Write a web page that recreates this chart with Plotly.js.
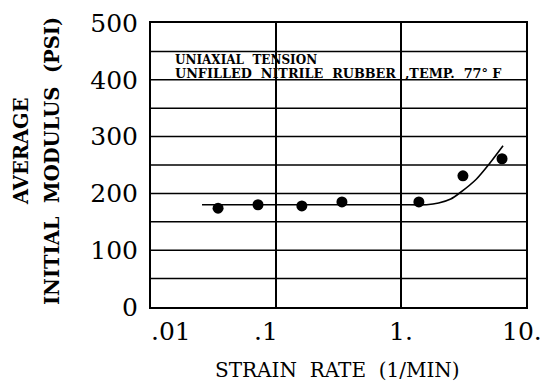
<!DOCTYPE html>
<html>
<head>
<meta charset="utf-8">
<script src="https://cdn.plot.ly/plotly-3.0.1.min.js"></script>
<style>html,body{margin:0;padding:0;background:#fff;}#chart{width:543px;height:383px;}</style>
</head>
<body>
<div id="chart"></div>
<script>
// Measured data points
const strainRate = [0.0344, 0.0718, 0.161, 0.337, 1.39, 3.13, 6.43];
const modulus    = [174, 180, 178, 185, 185, 231, 261];

// Fitted curve
const fitRate    = [0.0256, 0.1, 1.0, 1.6, 2.0, 2.5, 3.0, 4.0, 5.0, 6.55];
const fitModulus = [180, 180, 180, 180, 183, 190, 202, 225, 250, 284];

const xTickVals  = [0.01, 0.1, 1, 10];
const xTickText  = ['.01', '.1', '1.', '10.'];
const xTickShift = [20, -10, 0, -4];
const yTickVals  = [0, 100, 200, 300, 400, 500];
const yGridVals  = [50, 100, 150, 200, 250, 300, 350, 400, 450];

const noteLine1 = 'UNIAXIAL  TENSION';
const noteLine2 = 'UNFILLED  NITRILE  RUBBER  ,TEMP.  77° F';

const serif = 'DejaVu Serif, serif';

const traces = [
  {x: fitRate, y: fitModulus, mode: 'lines', type: 'scatter',
   line: {color: '#000', width: 1.6, shape: 'spline', smoothing: 0.6}, hoverinfo: 'skip'},
  {x: strainRate, y: modulus, mode: 'markers', type: 'scatter',
   marker: {color: '#000', size: 11, symbol: 'circle'}}
];

const tickAnns = xTickVals.map((v, i) => ({
  text: xTickText[i], xref: 'x', yref: 'paper', x: Math.log10(v), y: -0.085,
  xanchor: 'center', yanchor: 'middle', xshift: xTickShift[i], showarrow: false,
  font: {family: serif, size: 25, color: '#000'}
}));

const layout = {
  width: 543, height: 383,
  margin: {l: 151, r: 17, t: 23, b: 76},
  paper_bgcolor: '#fff', plot_bgcolor: '#fff',
  showlegend: false,
  font: {family: serif, color: '#000'},
  xaxis: {
    type: 'log', range: [-2, 1],
    tickvals: xTickVals, showticklabels: false,
    showgrid: true, gridcolor: '#000', gridwidth: 1.5,
    showline: true, linecolor: '#000', linewidth: 2, mirror: true,
    ticks: '', zeroline: false
  },
  yaxis: {
    range: [0, 500], tickvals: yTickVals,
    showgrid: false,
    showline: true, linecolor: '#000', linewidth: 2, mirror: true,
    ticks: '', zeroline: false, ticklabelstandoff: 6,
    tickfont: {family: serif, size: 25, color: '#000'}
  },
  shapes: yGridVals.map(v => ({
    type: 'line', xref: 'paper', x0: 0, x1: 1, yref: 'y', y0: v, y1: v,
    line: {color: '#000', width: 1.5}, layer: 'below'
  })),
  annotations: tickAnns.concat([
    {text: noteLine1, xref: 'x', yref: 'y', x: -1.824, y: 435, xanchor: 'left', yanchor: 'middle',
     showarrow: false, font: {family: serif, size: 12, color: '#000', weight: 'bold'}},
    {text: noteLine2, xref: 'x', yref: 'y', x: -1.824, y: 411, xanchor: 'left', yanchor: 'middle',
     showarrow: false, font: {family: serif, size: 12.8, color: '#000', weight: 'bold'}},
    {text: 'STRAIN  RATE  (1/MIN)', xref: 'paper', yref: 'paper', x: 0.496, y: -0.222,
     xanchor: 'center', yanchor: 'middle', showarrow: false,
     font: {family: serif, size: 20, color: '#000'}},
    {text: 'AVERAGE', xref: 'paper', yref: 'paper', x: -0.347, y: 0.549, xanchor: 'center', yanchor: 'middle',
     textangle: -90, showarrow: false, font: {family: serif, size: 19.5, color: '#000', weight: 'bold'}},
    {text: 'INITIAL  MODULUS  (PSI)', xref: 'paper', yref: 'paper', x: -0.264, y: 0.514, xanchor: 'center', yanchor: 'middle',
     textangle: -90, showarrow: false, font: {family: serif, size: 19.5, color: '#000', weight: 'bold'}}
  ])
};

Plotly.newPlot('chart', traces, layout, {displayModeBar: false, staticPlot: true});
</script>
</body>
</html>
